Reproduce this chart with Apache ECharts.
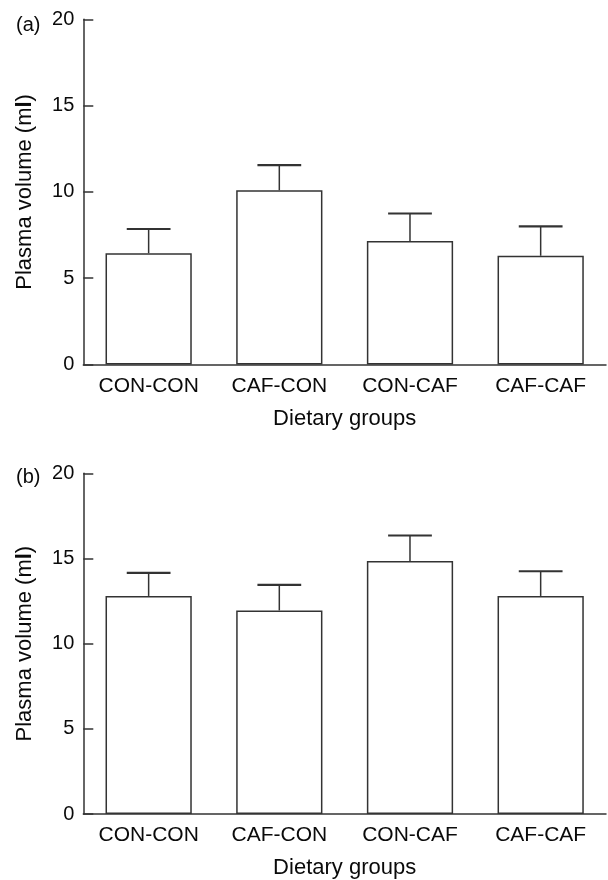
<!DOCTYPE html>
<html>
<head>
<meta charset="utf-8">
<script src="https://cdn.jsdelivr.net/npm/echarts@6/dist/echarts.min.js"></script>
<style>
html,body{margin:0;padding:0;background:#fff;}
#chart{width:608px;height:880px;}
</style>
</head>
<body>
<div id="chart"></div>
<script>
var categories = ['CON-CON', 'CAF-CON', 'CON-CAF', 'CAF-CAF'];
var yTicks = [0, 5, 10, 15, 20];
var meanA = [6.45, 10.1, 7.15, 6.3];
var semA = [1.4, 1.45, 1.6, 1.7];
var meanB = [12.8, 11.95, 14.85, 12.8];
var semB = [1.35, 1.5, 1.5, 1.45];

var FONT = 'Liberation Sans, Arial, Helvetica, sans-serif';
var INK = '#333';
var TXT = '#0a0a0a';

function errData(mean, sem) {
  return mean.map(function (m, i) { return [i, m, m + sem[i]]; });
}

function renderErr(params, api) {
  var x = api.value(0);
  var lo = api.coord([x, api.value(1)]);
  var hi = api.coord([x, api.value(2)]);
  var capW = api.size([1, 0])[0] * 0.335;
  return {
    type: 'group',
    children: [
      { type: 'line', shape: { x1: lo[0], y1: lo[1], x2: hi[0], y2: hi[1] },
        style: { stroke: INK, lineWidth: 1.5 } },
      { type: 'line', shape: { x1: hi[0] - capW / 2, y1: hi[1], x2: hi[0] + capW / 2, y2: hi[1] },
        style: { stroke: INK, lineWidth: 2.2 } }
    ]
  };
}

function xAxisFor(gi) {
  return {
    type: 'category', gridIndex: gi, data: categories,
    name: 'Dietary groups', nameLocation: 'middle', nameGap: 43,
    nameTextStyle: { fontFamily: FONT, fontSize: 22, color: TXT },
    axisLine: { lineStyle: { color: INK, width: 1.5 } },
    axisTick: { inside: true, alignWithLabel: true, length: 9, lineStyle: { color: INK, width: 1.5 } },
    axisLabel: { fontFamily: FONT, fontSize: 21, color: TXT, margin: 11 },
    splitLine: { show: false }
  };
}

function yAxisFor(gi) {
  return {
    type: 'value', gridIndex: gi, min: 0, max: 20, interval: 5,
    name: 'Plasma volume (m{b|l})', nameLocation: 'middle', nameGap: 47,
    nameTextStyle: { fontFamily: FONT, fontSize: 22, color: TXT,
      rich: { b: { fontFamily: FONT, fontSize: 22, fontWeight: 'bold', color: TXT } } },
    axisLine: { show: true, lineStyle: { color: INK, width: 1.5 } },
    axisTick: { show: true, inside: true, length: 10, lineStyle: { color: INK, width: 1.5 } },
    axisLabel: { fontFamily: FONT, fontSize: 20, color: TXT, margin: 9,
      formatter: function (v) { return yTicks.indexOf(v) >= 0 ? String(v) : ''; } },
    splitLine: { show: false }
  };
}

var chart = echarts.init(document.getElementById('chart'), null, { renderer: 'canvas' });
chart.setOption({
  backgroundColor: '#fff',
  animation: false,
  title: [
    { text: '(a)', left: 11, top: 10, textStyle: { fontFamily: FONT, fontSize: 20, fontWeight: 'normal', color: TXT } },
    { text: '(b)', left: 11, top: 462, textStyle: { fontFamily: FONT, fontSize: 20, fontWeight: 'normal', color: TXT } }
  ],
  grid: [
    { left: 83.3, right: 2, top: 19.3, bottom: 515.5 },
    { left: 83.3, right: 2, top: 473.3, bottom: 64.5 }
  ],
  xAxis: [xAxisFor(0), xAxisFor(1)],
  yAxis: [yAxisFor(0), yAxisFor(1)],
  series: [
    { type: 'bar', xAxisIndex: 0, yAxisIndex: 0, data: meanA, barWidth: '66%',
      itemStyle: { color: 'rgba(255,255,255,0)', borderColor: INK, borderWidth: 1.5 } },
    { type: 'custom', xAxisIndex: 0, yAxisIndex: 0, data: errData(meanA, semA), renderItem: renderErr, z: 3 },
    { type: 'bar', xAxisIndex: 1, yAxisIndex: 1, data: meanB, barWidth: '66%',
      itemStyle: { color: 'rgba(255,255,255,0)', borderColor: INK, borderWidth: 1.5 } },
    { type: 'custom', xAxisIndex: 1, yAxisIndex: 1, data: errData(meanB, semB), renderItem: renderErr, z: 3 }
  ]
});
</script>
</body>
</html>
